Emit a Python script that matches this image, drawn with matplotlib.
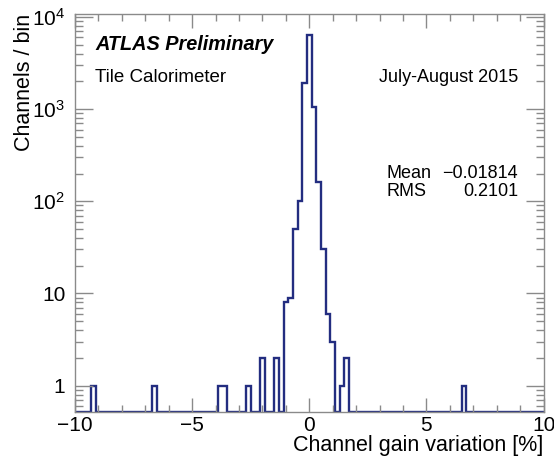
import numpy as np
import matplotlib
matplotlib.use("Agg")
import matplotlib.pyplot as plt
from matplotlib.ticker import FixedLocator, NullFormatter

plt.rcParams['font.family'] = ['Liberation Sans', 'DejaVu Sans']
plt.rcParams['mathtext.fontset'] = 'custom'
plt.rcParams['mathtext.rm'] = 'Liberation Sans'
plt.rcParams['mathtext.it'] = 'Liberation Sans:italic'
plt.rcParams['mathtext.bf'] = 'Liberation Sans:bold'

# ---- data (bin centres in %, counts per 0.2 % bin) ----
bin_centres = [-9.2, -6.6, -3.8, -3.6, -2.6, -2.0, -1.4,
               -1.0, -0.8, -0.6, -0.4, -0.2, 0.0, 0.2, 0.4, 0.6, 0.8, 1.0,
               1.4, 1.6, 6.6]
bin_counts = [1, 1, 1, 1, 1, 2, 2,
              8, 9, 50, 100, 1905, 6370, 1062, 163, 30, 6, 3,
              1, 2, 1]
bin_width = 0.2
x_range = (-10.0, 10.0)
y_range = (0.525, 10 ** 4.031)

x_major = [-10, -5, 0, 5, 10]
x_major_labels = ['\u221210', '\u22125', '0', '5', '10']
y_major = [1, 10, 100, 1000, 10000]
y_major_labels = ['1', '10', '$10^2$', '$10^3$', '$10^4$']

mean_text = '\u22120.01814'
rms_text = '0.2101'

# ---- build full histogram on the fixed binning ----
edges = np.arange(-10.1, 10.1 + 1e-9, bin_width)
full = np.zeros(len(edges) - 1)
centres_all = 0.5 * (edges[:-1] + edges[1:])
for c, n in zip(bin_centres, bin_counts):
    idx = int(np.argmin(np.abs(centres_all - c)))
    full[idx] = n

W, H = 554, 466
fig = plt.figure(figsize=(W / 100, H / 100), dpi=100)
ax = fig.add_axes([75 / W, 1 - 411.5 / H, (543.6 - 75) / W, (411.5 - 14) / H])

line_col = '#232d80'
draw_vals = np.maximum(full, y_range[0])
ax.stairs(draw_vals, edges, color=line_col, linewidth=1.7, baseline=None)

ax.set_yscale('log')
ax.set_xlim(*x_range)
ax.set_ylim(*y_range)

frame_col = '#8a8a8a'
for s in ax.spines.values():
    s.set_color(frame_col)
    s.set_linewidth(1.0)

ax.xaxis.set_major_locator(FixedLocator(x_major))
ax.set_xticklabels(x_major_labels)
ax.xaxis.set_minor_locator(FixedLocator(np.arange(-10, 11, 1)))
ax.yaxis.set_major_locator(FixedLocator(y_major))
ax.set_yticklabels(y_major_labels)
minors = [m * 10 ** d for d in range(-1, 5) for m in range(2, 10)]
ax.yaxis.set_minor_locator(FixedLocator(minors))
ax.yaxis.set_minor_formatter(NullFormatter())

ax.tick_params(axis='both', which='both', direction='in', top=True, right=True,
               color=frame_col, labelsize=15, labelcolor='black')
ax.tick_params(axis='x', which='major', length=10, width=1, pad=3)
ax.tick_params(axis='x', which='minor', length=5, width=1)
ax.tick_params(axis='y', which='major', length=13, width=1, pad=7)
ax.tick_params(axis='y', which='minor', length=6, width=1)

ax.set_xlabel('Channel gain variation [%]', fontsize=15.5, loc='right', labelpad=0)
ax.set_ylabel('Channels / bin', fontsize=15.5, loc='top', labelpad=-2)

tr = fig.transFigure
def px(x, y):
    return x / W, 1 - y / H

fig.text(*px(95, 45), 'ATLAS Preliminary', fontsize=14.3, fontweight='bold',
         fontstyle='italic', va='center', ha='left', transform=tr)
fig.text(*px(95, 77), 'Tile Calorimeter', fontsize=13.5, va='center', ha='left', transform=tr)
fig.text(*px(518, 77), 'July-August 2015', fontsize=13, va='center', ha='right', transform=tr)
fig.text(*px(386, 173), 'Mean', fontsize=13, va='center', ha='left', transform=tr)
fig.text(*px(518, 173), mean_text, fontsize=13, va='center', ha='right', transform=tr)
fig.text(*px(386, 192), 'RMS', fontsize=13, va='center', ha='left', transform=tr)
fig.text(*px(518, 192), rms_text, fontsize=13, va='center', ha='right', transform=tr)

fig.savefig('out.png', dpi=100)
